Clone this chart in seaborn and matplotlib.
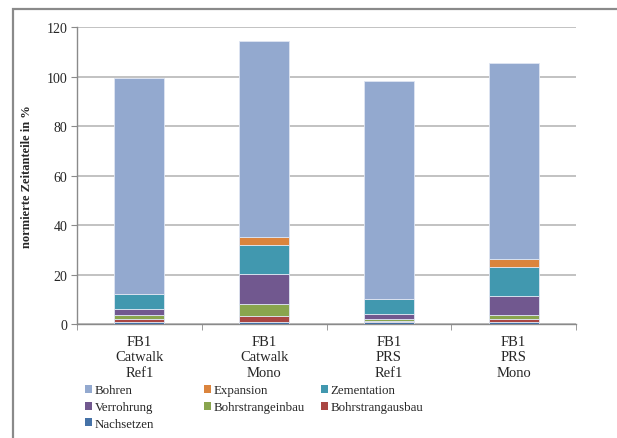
import matplotlib
matplotlib.use("Agg")
import matplotlib.pyplot as plt
import seaborn as sns
import numpy as np
import pandas as pd
from matplotlib.patches import Rectangle
from matplotlib.ticker import FixedLocator

# Categories (drill configurations)
categories = ["FB1\nCatwalk\nRef1", "FB1\nCatwalk\nMono", "FB1\nPRS\nRef1", "FB1\nPRS\nMono"]

# Normalised time shares in %, per activity (stacked bottom to top)
nachsetzen       = [0.9, 1.0, 0.9, 1.1]
bohrstrangausbau = [1.1, 2.5, 0.6, 1.1]
bohrstrangeinbau = [1.7, 4.7, 0.7, 1.6]
verrohrung       = [2.5, 12.2, 2.0, 7.8]
zementation      = [6.1, 11.7, 6.2, 11.7]
expansion        = [0.0, 3.0, 0.0, 3.1]
bohren           = [87.4, 79.3, 87.8, 79.1]

series = [
    ("Nachsetzen", nachsetzen, "#4572A7"),
    ("Bohrstrangausbau", bohrstrangausbau, "#AA4643"),
    ("Bohrstrangeinbau", bohrstrangeinbau, "#89A54E"),
    ("Verrohrung", verrohrung, "#71588F"),
    ("Zementation", zementation, "#4198AF"),
    ("Expansion", expansion, "#DB843D"),
    ("Bohren", bohren, "#93A9CF"),
]

sns.set_style("white")
plt.rcParams["font.family"] = ["Liberation Serif", "DejaVu Serif"]

fig = plt.figure(figsize=(6.17, 4.39), dpi=100)
ax = fig.add_axes([77 / 617, 1 - 325.3 / 439, (576 - 77) / 617, (325.3 - 28.3) / 439])

handles = {}
bottom = np.zeros(len(categories))
for name, vals, col in series:
    df = pd.DataFrame({"cat": categories, "val": vals})
    sns.barplot(data=df, x="cat", y="val", color=col, width=0.4, saturation=1,
                bottom=bottom, errorbar=None, ax=ax,
                edgecolor="#dfe6f2", linewidth=0.6, zorder=3)
    handles[name] = Rectangle((0, 0), 1, 1, facecolor=col, edgecolor="none")
    bottom = bottom + np.array(vals)

ax.set_ylim(0, 120)
ax.set_xlim(-0.5, len(categories) - 0.5)
ax.set_yticks(np.arange(0, 121, 20))
ax.yaxis.grid(True, color="#bdbdbd", linewidth=1.3, zorder=0)
ax.xaxis.grid(False)
ax.set_axisbelow(True)

for s in ["top", "right"]:
    ax.spines[s].set_visible(False)
for s in ["left", "bottom"]:
    ax.spines[s].set_color("#8a8a8a")
    ax.spines[s].set_linewidth(1.0)

ax.set_xlabel("")
ax.set_ylabel("normierte Zeitanteile in %", fontsize=9, fontweight="bold", labelpad=10)
ax.tick_params(axis="y", which="major", length=4, color="#8a8a8a", labelsize=10, pad=3, direction="out", left=True)
ax.tick_params(axis="x", which="major", length=0, labelsize=10.5, pad=7.5)
ax.xaxis.set_minor_locator(FixedLocator(np.arange(-0.5, len(categories), 1.0)))
ax.tick_params(axis="x", which="minor", length=4, color="#8a8a8a", direction="out", bottom=True)
for lbl in ax.get_xticklabels():
    lbl.set_linespacing(1.25)

# Legend laid out in three fixed columns
cols = [["Bohren", "Verrohrung", "Nachsetzen"],
        ["Expansion", "Bohrstrangeinbau"],
        ["Zementation", "Bohrstrangausbau"]]
col_x = [85, 204, 321]
for names, x0 in zip(cols, col_x):
    fig.legend([handles[n] for n in names], names, loc="upper left",
               bbox_to_anchor=(x0 / 617, 1 - 385.5 / 439), frameon=False,
               fontsize=9.3, handlelength=0.58, handleheight=0.58,
               handletextpad=0.15, labelspacing=0.36, borderpad=0,
               borderaxespad=0)

# Outer chart-area frame
fig.patches.append(Rectangle((12.5 / 617, -0.2), 1.2, 1 - 9.5 / 439 + 0.2,
                             transform=fig.transFigure, fill=False,
                             edgecolor="#8a8a8a", linewidth=1.6))

fig.savefig("out.png", dpi=100)
